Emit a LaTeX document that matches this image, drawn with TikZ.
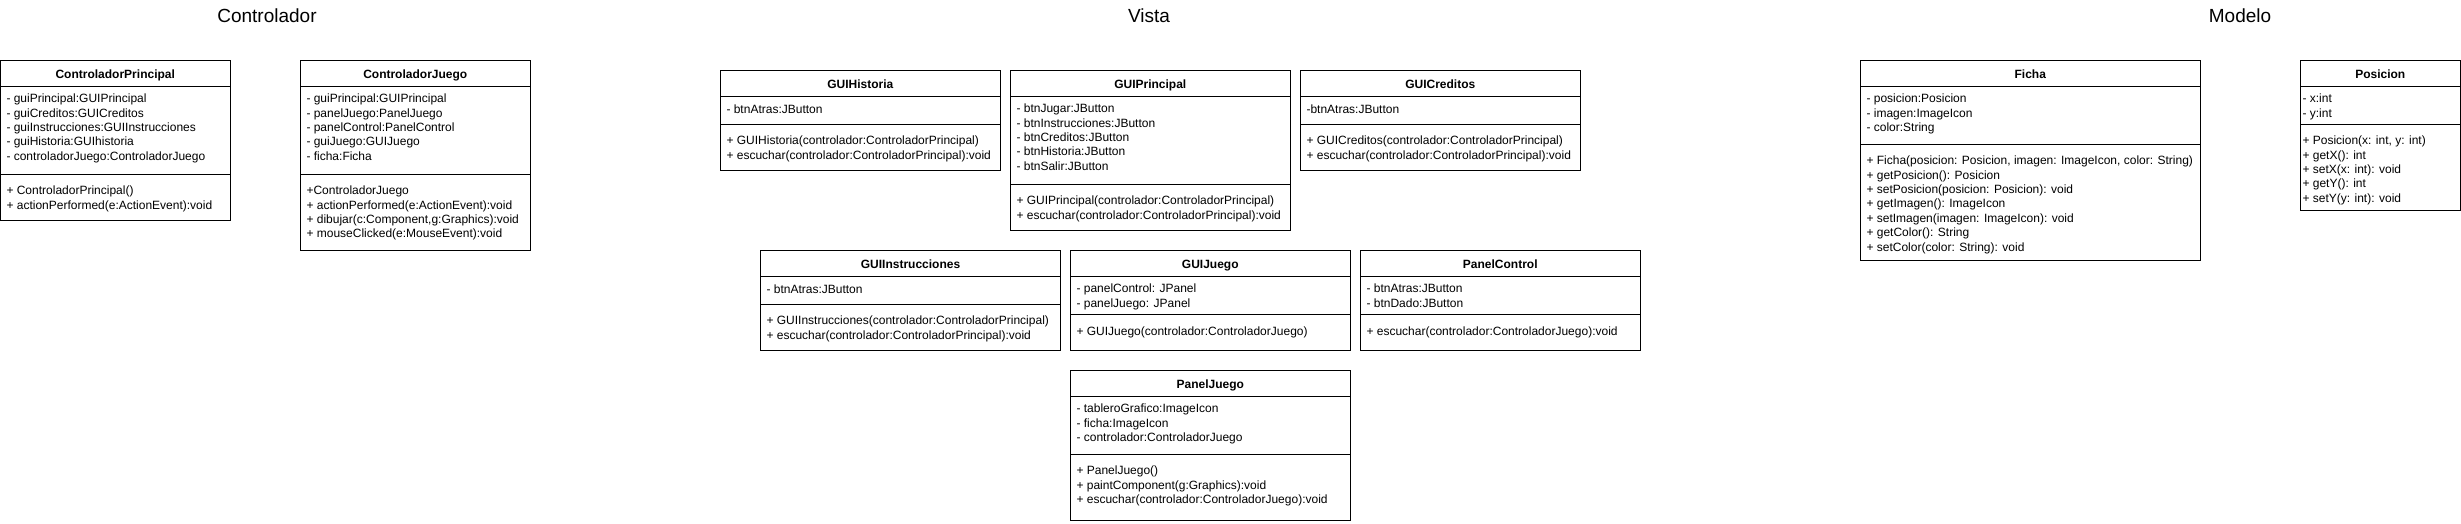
\documentclass[tikz,border=0pt]{standalone}
\usepackage{fontspec}
\setmainfont{Liberation Sans}
\usepackage{tikz}
\usetikzlibrary{positioning}

\begin{document}
\begin{tikzpicture}[%
        x=1pt, y=-1pt,
        every node/.style={inner sep=0pt, outer sep=0pt},
        classname/.style={draw, fill=white, anchor=north west, minimum height=26pt,
          text height=9pt, text depth=0pt, font=\fontsize{12}{14.4}\selectfont\bfseries},
        compart/.style={draw, fill=white},
        members/.style={anchor=north west, align=left, font=\fontsize{12}{14.4}\selectfont,
          execute at begin node=\strut},
        attrtext/.style={members, xshift=6pt, yshift=-7.4pt},
        methtext/.style={members, xshift=6pt, yshift=-11.4pt},
        pkgtitle/.style={anchor=base, font=\fontsize{19}{23}\selectfont},
        node distance=0pt
      ]
      \fill[white] (0,0) rectangle (2461,523);
      \useasboundingbox (0,0) rectangle (2461,523);

      \node [pkgtitle] (ctrl) at (267,22) {Controlador};
      \node [pkgtitle] (vista) at (1149,22) {Vista};
      \node [pkgtitle] (modelo) at (2240,22) {Modelo};

      % Controlador
      \node [classname, minimum width=229.5pt] (cp) at (0.5,60.5) {ControladorPrincipal};
      \node [compart, minimum width=229.5pt, minimum height=88pt, below=of cp] (cpA) {};
      \node [compart, minimum width=229.5pt, minimum height=46pt, below=of cpA] (cpM) {};
      \node [attrtext] (cpAt) at (cpA.north west) {- guiPrincipal:GUIPrincipal\\- guiCreditos:GUICreditos\\- guiInstrucciones:GUIInstrucciones\\- guiHistoria:GUIhistoria\\- controladorJuego:ControladorJuego};
      \node [methtext] (cpMt) at (cpM.north west) {+ ControladorPrincipal()\\+ actionPerformed(e:ActionEvent):void};

      \node [classname, minimum width=229.5pt] (cj) at (300.5,60.5) {ControladorJuego};
      \node [compart, minimum width=229.5pt, minimum height=88pt, below=of cj] (cjA) {};
      \node [compart, minimum width=229.5pt, minimum height=76pt, below=of cjA] (cjM) {};
      \node [attrtext] (cjAt) at (cjA.north west) {- guiPrincipal:GUIPrincipal\\- panelJuego:PanelJuego\\- panelControl:PanelControl\\- guiJuego:GUIJuego\\- ficha:Ficha};
      \node [methtext] (cjMt) at (cjM.north west) {+ControladorJuego\\+ actionPerformed(e:ActionEvent):void\\+ dibujar(c:Component,g:Graphics):void\\+ mouseClicked(e:MouseEvent):void};

      % Vista
      \node [classname, minimum width=279.5pt] (gh) at (720.5,70.5) {GUIHistoria};
      \node [compart, minimum width=279.5pt, minimum height=28pt, below=of gh] (ghA) {};
      \node [compart, minimum width=279.5pt, minimum height=46pt, below=of ghA] (ghM) {};
      \node [attrtext] (ghAt) at (ghA.north west) {- btnAtras:JButton};
      \node [methtext] (ghMt) at (ghM.north west) {+ GUIHistoria(controlador:ControladorPrincipal)\\+ escuchar(controlador:ControladorPrincipal):void};

      \node [classname, minimum width=279.5pt] (gp) at (1010.5,70.5) {GUIPrincipal};
      \node [compart, minimum width=279.5pt, minimum height=88pt, below=of gp] (gpA) {};
      \node [compart, minimum width=279.5pt, minimum height=46pt, below=of gpA] (gpM) {};
      \node [attrtext] (gpAt) at (gpA.north west) {- btnJugar:JButton\\- btnInstrucciones:JButton\\- btnCreditos:JButton\\- btnHistoria:JButton\\- btnSalir:JButton};
      \node [methtext] (gpMt) at (gpM.north west) {+ GUIPrincipal(controlador:ControladorPrincipal)\\+ escuchar(controlador:ControladorPrincipal):void};

      \node [classname, minimum width=279.5pt] (gc) at (1300.5,70.5) {GUICreditos};
      \node [compart, minimum width=279.5pt, minimum height=28pt, below=of gc] (gcA) {};
      \node [compart, minimum width=279.5pt, minimum height=46pt, below=of gcA] (gcM) {};
      \node [attrtext] (gcAt) at (gcA.north west) {-btnAtras:JButton};
      \node [methtext] (gcMt) at (gcM.north west) {+ GUICreditos(controlador:ControladorPrincipal)\\+ escuchar(controlador:ControladorPrincipal):void};

      \node [classname, minimum width=300pt] (gi) at (760.5,250.5) {GUIInstrucciones};
      \node [compart, minimum width=300pt, minimum height=28pt, below=of gi] (giA) {};
      \node [compart, minimum width=300pt, minimum height=46pt, below=of giA] (giM) {};
      \node [attrtext] (giAt) at (giA.north west) {- btnAtras:JButton};
      \node [methtext] (giMt) at (giM.north west) {+ GUIInstrucciones(controlador:ControladorPrincipal)\\+ escuchar(controlador:ControladorPrincipal):void};

      \node [classname, minimum width=279.5pt] (gj) at (1070.5,250.5) {GUIJuego};
      \node [compart, minimum width=279.5pt, minimum height=38pt, below=of gj] (gjA) {};
      \node [compart, minimum width=279.5pt, minimum height=36pt, below=of gjA] (gjM) {};
      \node [attrtext] (gjAt) at (gjA.north west) {- panelControl: JPanel\\- panelJuego: JPanel};
      \node [methtext] (gjMt) at (gjM.north west) {+ GUIJuego(controlador:ControladorJuego)};

      \node [classname, minimum width=279.5pt] (pc) at (1360.5,250.5) {PanelControl};
      \node [compart, minimum width=279.5pt, minimum height=38pt, below=of pc] (pcA) {};
      \node [compart, minimum width=279.5pt, minimum height=36pt, below=of pcA] (pcM) {};
      \node [attrtext] (pcAt) at (pcA.north west) {- btnAtras:JButton\\- btnDado:JButton};
      \node [methtext] (pcMt) at (pcM.north west) {+ escuchar(controlador:ControladorJuego):void};

      \node [classname, minimum width=279.5pt] (pj) at (1070.5,370.5) {PanelJuego};
      \node [compart, minimum width=279.5pt, minimum height=58pt, below=of pj] (pjA) {};
      \node [compart, minimum width=279.5pt, minimum height=66pt, below=of pjA] (pjM) {};
      \node [attrtext] (pjAt) at (pjA.north west) {- tableroGrafico:ImageIcon\\- ficha:ImageIcon\\- controlador:ControladorJuego};
      \node [methtext] (pjMt) at (pjM.north west) {+ PanelJuego()\\+ paintComponent(g:Graphics):void\\+ escuchar(controlador:ControladorJuego):void};

      % Modelo
      \node [classname, minimum width=339.5pt] (fi) at (1860.5,60.5) {Ficha};
      \node [compart, minimum width=339.5pt, minimum height=58pt, below=of fi] (fiA) {};
      \node [compart, minimum width=339.5pt, minimum height=116pt, below=of fiA] (fiM) {};
      \node [attrtext] (fiAt) at (fiA.north west) {- posicion:Posicion\\- imagen:ImageIcon\\- color:String};
      \node [methtext] (fiMt) at (fiM.north west) {+ Ficha(posicion: Posicion, imagen: ImageIcon, color: String)\\+ getPosicion(): Posicion\\+ setPosicion(posicion: Posicion): void\\+ getImagen(): ImageIcon\\+ setImagen(imagen: ImageIcon): void\\+ getColor(): String\\+ setColor(color: String): void};

      \node [classname, minimum width=159.5pt] (po) at (2300.5,60.5) {Posicion};
      \node [compart, minimum width=159.5pt, minimum height=38pt, below=of po] (poA) {};
      \node [compart, minimum width=159.5pt, minimum height=86pt, below=of poA] (poM) {};
      \node [attrtext, xshift=-4pt] (poAt) at (poA.north west) {- x:int\\- y:int};
      \node [methtext, xshift=-4pt] (poMt) at (poM.north west) {+ Posicion(x: int, y: int)\\+ getX(): int\\+ setX(x: int): void\\+ getY(): int\\+ setY(y: int): void};
    \end{tikzpicture}
\end{document}
